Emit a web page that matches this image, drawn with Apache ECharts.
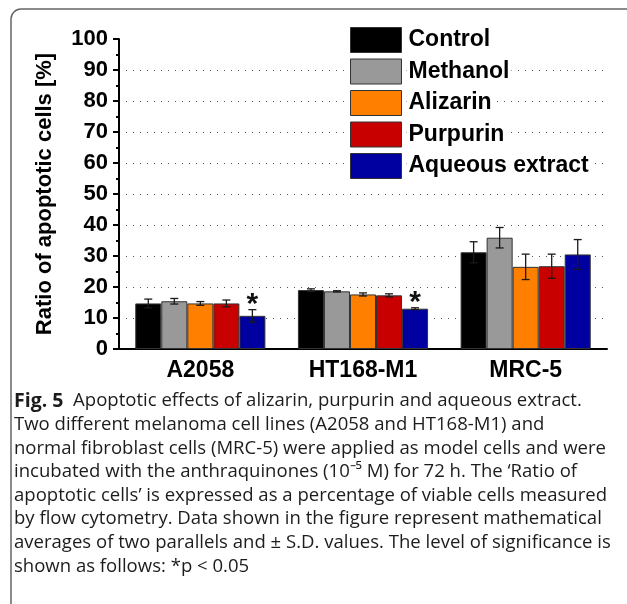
<!DOCTYPE html>
<html>
<head>
<meta charset="utf-8">
<script src="https://cdn.jsdelivr.net/npm/echarts@6/dist/echarts.min.js"></script>
<style>
  html, body { margin: 0; padding: 0; background: #fff; }
  #chart { width: 627px; height: 604px; }
</style>
</head>
<body>
<div id="chart"></div>
<script>
// categories and series
const cellLines = ['A2058', 'HT168-M1', 'MRC-5'];
const treatments = ['Control', 'Methanol', 'Alizarin', 'Purpurin', 'Aqueous extract'];
const colors = ['#000000', '#999999', '#ff8000', '#c80000', '#0000a0'];

// mean ratio of apoptotic cells [%], one value per cell line
const controlMean = [14.7, 19.0, 31.2];
const methanolMean = [15.4, 18.6, 35.9];
const alizarinMean = [14.7, 17.6, 26.5];
const purpurinMean = [14.7, 17.3, 26.7];
const extractMean = [10.7, 13.0, 30.5];

// +/- S.D.
const controlSD = [1.4, 0.4, 3.4];
const methanolSD = [0.9, 0.2, 3.3];
const alizarinSD = [0.6, 0.5, 4.1];
const purpurinSD = [1.1, 0.5, 3.9];
const extractSD = [2.0, 0.3, 4.8];

// *p < 0.05 (aqueous extract)
const extractSignificant = [true, true, false];

const captionLines = [
  '{b|Fig. 5}  Apoptotic effects of alizarin, purpurin and aqueous extract.',
  'Two different melanoma cell lines (A2058 and HT168-M1) and',
  'normal fibroblast cells (MRC-5) were applied as model cells and were',
  'incubated with the anthraquinones (10⁻⁵ M) for 72 h. The ‘Ratio of',
  'apoptotic cells’ is expressed as a percentage of viable cells measured',
  'by flow cytometry. Data shown in the figure represent mathematical',
  'averages of two parallels and ± S.D. values. The level of significance is',
  'shown as follows: *p < 0.05'
];

const means = [controlMean, methanolMean, alizarinMean, purpurinMean, extractMean];
const sds = [controlSD, methanolSD, alizarinSD, purpurinSD, extractSD];

const chart = echarts.init(document.getElementById('chart'), null, { renderer: 'canvas' });

const BOLD = 'Liberation Sans, Arial, sans-serif';
const CAP_FONT = '"Open Sans", sans-serif';

// 柱子在分组中的横向偏移
const barOffset = (api, idx) => {
  const band = api.size([1, 0])[0];
  const w = band * 0.8 / treatments.length;
  return (idx - (treatments.length - 1) / 2) * w;
};

const barSeries = treatments.map((name, i) => ({
  name,
  type: 'bar',
  data: means[i],
  barGap: '0%',
  barCategoryGap: '20%',
  itemStyle: { color: colors[i], borderColor: '#333', borderWidth: 1 },
  z: 2,
}));

const errorSeries = treatments.map((name, i) => ({
  name: 'err-' + name,
  type: 'custom',
  data: means[i].map((m, c) => [c, m, sds[i][c]]),
  z: 5,
  silent: true,
  renderItem: (params, api) => {
    const c = api.value(0);
    const m = api.value(1);
    const sd = api.value(2);
    const x = api.coord([c, m])[0] + barOffset(api, i);
    const top = api.coord([c, m + sd])[1];
    const bot = api.coord([c, m - sd])[1];
    const style = { stroke: '#1a1a1a', lineWidth: 1.3 };
    return {
      type: 'group',
      children: [
        { type: 'line', shape: { x1: x, y1: top, x2: x, y2: bot }, style },
        { type: 'line', shape: { x1: x - 4, y1: top, x2: x + 4, y2: top }, style },
        { type: 'line', shape: { x1: x - 4, y1: bot, x2: x + 4, y2: bot }, style },
      ],
    };
  },
}));

const starSeries = {
  name: 'significance',
  type: 'custom',
  silent: true,
  z: 6,
  data: extractMean
    .map((m, c) => [c, m + extractSD[c], extractSignificant[c] ? 1 : 0])
    .filter((d) => d[2] === 1),
  renderItem: (params, api) => {
    const c = api.value(0);
    const pos = api.coord([c, api.value(1)]);
    return {
      type: 'text',
      x: pos[0] + barOffset(api, 4),
      y: pos[1] - 5,
      style: {
        text: '*',
        font: 'bold 30px ' + BOLD,
        fill: '#111',
        align: 'center',
        verticalAlign: 'middle',
      },
    };
  },
};

// 图注文字宽度压缩，贴合原图的窄字体
const measureCtx = document.createElement('canvas').getContext('2d');
measureCtx.font = '19px ' + CAP_FONT;
const capScale = 592 / measureCtx.measureText(captionLines[2]).width;

const captionGraphics = captionLines.map((line, k) => ({
  type: 'text',
  x: 14,
  y: 401 + k * 23.6,
  scaleX: capScale,
  style: {
    text: line,
    font: '19px ' + CAP_FONT,
    fill: '#1e1b1c',
    verticalAlign: 'middle',
    rich: { b: { font: 'bold 20px ' + CAP_FONT, fill: '#1e1b1c' } },
  },
}));

const option = {
  backgroundColor: '#fff',
  animation: false,
  grid: { left: 119, right: 20, top: 39, bottom: 255, containLabel: false },
  legend: {
    orient: 'vertical',
    left: 350,
    top: 27,
    padding: 0,
    itemWidth: 51,
    itemHeight: 25,
    itemGap: 5.5,
    icon: 'rect',
    selectedMode: false,
    data: treatments,
    itemStyle: { borderColor: '#333', borderWidth: 1 },
    textStyle: {
      fontFamily: BOLD,
      fontWeight: 'bold',
      fontSize: 23,
      color: '#000',
      backgroundColor: '#fff',
      padding: [0, 2, 0, 2],
    },
  },
  xAxis: {
    type: 'category',
    data: cellLines,
    axisLine: { lineStyle: { color: '#000', width: 2 } },
    axisTick: { alignWithLabel: true, length: 7, lineStyle: { color: '#000', width: 2 } },
    axisLabel: { fontFamily: BOLD, fontWeight: 'bold', fontSize: 23, color: '#000', margin: 10 },
  },
  yAxis: {
    type: 'value',
    min: 0,
    max: 100,
    interval: 10,
    name: 'Ratio of apoptotic cells [%]',
    nameLocation: 'middle',
    nameGap: 63,
    nameTextStyle: { fontFamily: BOLD, fontWeight: 'bold', fontSize: 22, color: '#000' },
    axisLine: { show: true, lineStyle: { color: '#000', width: 2 } },
    axisTick: { show: true, inside: false, length: 6, lineStyle: { color: '#000', width: 2 } },
    minorTick: { show: true, splitNumber: 2, length: 3, lineStyle: { color: '#000', width: 2 } },
    axisLabel: { fontFamily: BOLD, fontWeight: 'bold', fontSize: 22, color: '#000', margin: 11 },
    splitLine: {
      show: true,
      showMinLine: false,
      showMaxLine: false,
      lineStyle: { color: '#555', type: [1, 6], width: 1 },
    },
  },
  series: [...barSeries, ...errorSeries, starSeries],
  graphic: [
    {
      type: 'rect',
      shape: { x: 11, y: 9, width: 700, height: 700, r: 10 },
      style: { fill: 'none', stroke: '#666', lineWidth: 1.5 },
      z: -1,
      silent: true,
    },
    ...captionGraphics,
  ],
};

chart.setOption(option);
</script>
</body>
</html>
